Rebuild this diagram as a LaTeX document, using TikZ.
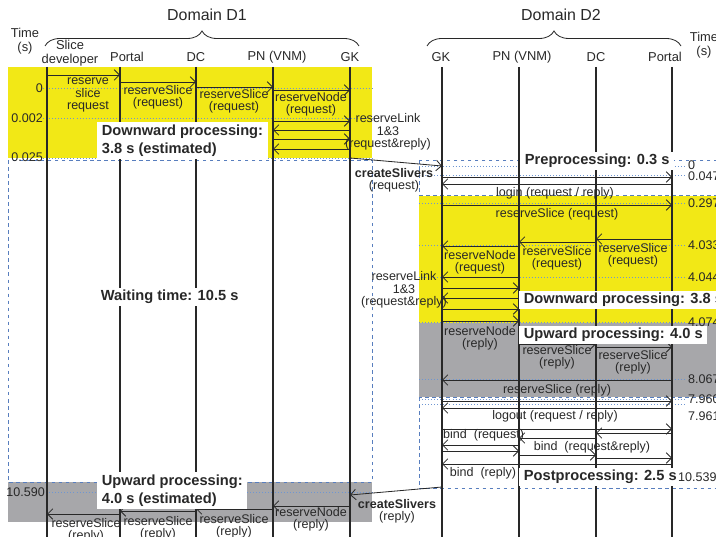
\documentclass[tikz,border=0pt]{standalone}
\usepackage{fontspec}
\setmainfont{Liberation Sans}
\usetikzlibrary{arrows.meta,decorations.pathreplacing}
\definecolor{bandyellow}{RGB}{242,232,22}
\definecolor{bandgray}{RGB}{167,167,170}
\definecolor{framecolor}{RGB}{88,126,190}
\definecolor{markcolor}{RGB}{110,150,210}
\definecolor{inkcolor}{RGB}{40,40,40}
\newcommand{\lblfont}{\fontsize{10.7}{10.5}\selectfont}
\newcommand{\headfont}{\fontsize{11}{12.5}\selectfont}
\newcommand{\phasefont}{\fontsize{12.5}{15.5}\selectfont\bfseries}
\newcommand{\msgarrow}[3]{\draw[msg] (#1 |- 0,#3) -- (#2 |- 0,#3);}
\tikzset{
	lifeline/.style={
		line width=1.4pt,
		draw=inkcolor
	},
	thinline/.style={
		line width=0.9pt,
		draw=inkcolor
	},
	msg/.style={
		draw=inkcolor,
		line width=0.7pt,
		-{Straight Barb[length=4.5pt,width=9pt]}
	},
	lbl/.style={
		font=\lblfont,
		text=inkcolor,
		align=center,
		inner sep=0pt
	},
	head/.style={
		font=\headfont,
		text=inkcolor,
		align=center,
		inner sep=0pt
	},
	phase/.style={
		font=\phasefont,
		text=inkcolor,
		fill=white,
		align=left,
		inner xsep=4pt,
		inner ysep=2pt
	},
	phaseframe/.style={
		draw=framecolor,
		dashed,
		line width=0.7pt
	},
	timemark/.style={
		draw=markcolor,
		dotted,
		line width=0.6pt
	},
	domainbrace/.style={
		decorate,
		decoration={brace,amplitude=4.5mm},
		draw=inkcolor,
		line width=0.7pt
	},
}

\begin{document}
\begin{tikzpicture}[x=0.03cm,y=-0.03cm]
\useasboundingbox (0,0) rectangle (716,537);

% phases
\fill[bandyellow] (8,67) rectangle (372,158);
\fill[bandgray] (8,482) rectangle (372,522);
\fill[bandyellow] (419,196) rectangle (716,323);
\fill[bandgray] (419,323) rectangle (716,397);
\draw[phaseframe] (8,160) rectangle (372,482);
\draw[phaseframe] (419,160) rectangle (730,195);
\draw[phaseframe] (419,397) rectangle (730,488);

\foreach \t in {88,118,158,492}
	\draw[timemark] (43,\t) -- (372,\t);
\foreach \t in {166,175,203,245,277,322,379,399,404}
	\draw[timemark] (419,\t) -- (686,\t);

% lifelines
\coordinate (sd) at (47,67);
\coordinate (po1) at (120,67);
\coordinate (dc1) at (196,67);
\coordinate (pn1) at (273,67);
\coordinate (gk1) at (350,67);
\coordinate (gk2) at (442,67);
\coordinate (pn2) at (519,67);
\coordinate (dc2) at (596,67);
\coordinate (po2) at (672,67);
\foreach \c in {sd,po1,dc1,pn1,gk1,gk2}
	\draw[lifeline] (\c) -- (\c |- 0,537);
\foreach \c in {pn2,dc2,po2}
	\draw[thinline] (\c) -- (\c |- 0,537);

% headers
\node[head, font=\fontsize{13.6}{15}\selectfont] (dom1) at (207,15) {Domain D1};
\node[head, font=\fontsize{13.6}{15}\selectfont] (dom2) at (561,15) {Domain D2};
\draw[domainbrace] (45,46) -- (359,46);
\draw[domainbrace] (427,46) -- (681,46);
\node[head] (time1) at (25,41) {Time\\(s)};
\node[head] (time2) at (704,45) {Time\\(s)};
\node[head] (hsd) at (70,53) {Slice\\developer};
\node[head] (hpo1) at (127,57) {Portal};
\node[head] (hdc1) at (196,57) {DC};
\node[head] (hpn1) at (277,57) {PN (VNM)};
\node[head] (hgk1) at (350,57) {GK};
\node[head] (hgk2) at (441,57) {GK};
\node[head] (hpn2) at (522,57) {PN (VNM)};
\node[head] (hdc2) at (596,57) {DC};
\node[head] (hpo2) at (665,57) {Portal};

% domain D1, downward
\msgarrow{sd}{po1}{75}
\msgarrow{po1}{dc1}{82}
\msgarrow{dc1}{pn1}{87}
\msgarrow{pn1}{gk1}{90}
\msgarrow{pn1}{gk1}{121}
\msgarrow{gk1}{pn1}{130}
\msgarrow{pn1}{gk1}{139}
\msgarrow{gk1}{pn1}{149}
\draw[msg] (gk1 |- 0,158) -- (gk2 |- 0,166);

% domain D2
\msgarrow{gk2}{po2}{177}
\msgarrow{po2}{gk2}{184}
\msgarrow{gk2}{po2}{205}
\msgarrow{po2}{dc2}{239}
\msgarrow{dc2}{pn2}{242}
\msgarrow{pn2}{gk2}{246}
\msgarrow{pn2}{gk2}{277}
\msgarrow{gk2}{pn2}{288}
\msgarrow{pn2}{gk2}{298}
\msgarrow{gk2}{pn2}{309}
\msgarrow{gk2}{pn2}{321}
\msgarrow{pn2}{dc2}{344}
\msgarrow{dc2}{po2}{347}
\msgarrow{po2}{gk2}{380}
\msgarrow{gk2}{po2}{401}
\msgarrow{po2}{gk2}{408}
\msgarrow{gk2}{po2}{429}
\msgarrow{po2}{dc2}{433}
\msgarrow{dc2}{pn2}{438}
\msgarrow{pn2}{gk2}{445}
\msgarrow{gk2}{pn2}{451}
\msgarrow{pn2}{dc2}{455}
\msgarrow{dc2}{po2}{458}
\msgarrow{po2}{gk2}{464}
\draw[msg] (gk2 |- 0,487) -- (gk1 |- 0,495);

% domain D1, upward
\msgarrow{gk1}{pn1}{506}
\msgarrow{pn1}{dc1}{509}
\msgarrow{dc1}{po1}{511}
\msgarrow{po1}{sd}{514}

% phase boxes
\node[phase, anchor=north west] (down1) at (97,122) {Downward processing:\\3.8 s (estimated)};
\node[phase, anchor=west] (wait1) at (96,297) {Waiting time: 10.5 s};
\node[phase, anchor=north west] (up1) at (97,472) {Upward processing:\\4.0 s (estimated)};
\node[phase, anchor=west] (pre2) at (520,161) {Preprocessing: 0.3 s};
\node[phase, anchor=west] (down2) at (519,300) {Downward processing: 3.8 s};
\node[phase, anchor=west] (up2) at (519,335) {Upward processing: 4.0 s};
\node[phase, anchor=west] (post2) at (519,477) {Postprocessing: 2.5 s};

% message labels
\node[lbl] (m1) at (88,95) {reserve\\slice\\request};
\node[lbl] (m2) at (158,97) {reserveSlice\\(request)};
\node[lbl] (m3) at (234,101) {reserveSlice\\(request)};
\node[lbl] (m4) at (311,104) {reserveNode\\(request)};
\node[lbl] (m5) at (388,132) {reserveLink\\1\&3\\(request\&reply)};
\node[lbl] (m6) at (394,180) {\textbf{createSlivers}\\(request)};
\node[lbl] (m7) at (555,193) {login (request / reply)};
\node[lbl] (m8) at (557,214) {reserveSlice (request)};
\node[lbl] (m9) at (633,255) {reserveSlice\\(request)};
\node[lbl] (m10) at (557,258) {reserveSlice\\(request)};
\node[lbl] (m11) at (480,262) {reserveNode\\(request)};
\node[lbl] (m12) at (404,290) {reserveLink\\1\&3\\(request\&reply)};
\node[lbl] (m13) at (480,338) {reserveNode\\(reply)};
\node[lbl] (m14) at (557,357) {reserveSlice\\(reply)};
\node[lbl] (m15) at (633,362) {reserveSlice\\(reply)};
\node[lbl] (m16) at (557,390) {reserveSlice (reply)};
\node[lbl] (m17) at (555,416) {logout (request / reply)};
\node[lbl, anchor=west] (m18) at (443,435) {bind \ (request)};
\node[lbl] (m19) at (592,447) {bind \ (request\&reply)};
\node[lbl] (m20) at (483,473) {bind \ (reply)};
\node[lbl] (m21) at (397,511) {\textbf{createSlivers}\\(reply)};
\node[lbl] (m22) at (311,519) {reserveNode\\(reply)};
\node[lbl] (m23) at (234,526) {reserveSlice\\(reply)};
\node[lbl] (m24) at (158,528) {reserveSlice\\(reply)};
\node[lbl] (m25) at (86,530) {reserveSlice\\(reply)};

% time stamps
\node[lbl, anchor=east] (t1) at (43,88) {0};
\node[lbl, anchor=east] (t2) at (43,118) {0.002};
\node[lbl, anchor=east] (t3) at (43,157) {0.025};
\node[lbl, anchor=east] (t4) at (45,492) {10.590};
\node[lbl, anchor=west] (t5) at (688,165) {0};
\node[lbl, anchor=west] (t6) at (688,176) {0.047};
\node[lbl, anchor=west] (t7) at (688,203) {0.297};
\node[lbl, anchor=west] (t8) at (688,245) {4.033};
\node[lbl, anchor=west] (t9) at (688,277) {4.044};
\node[lbl, anchor=west] (t10) at (688,322) {4.074};
\node[lbl, anchor=west] (t11) at (688,379) {8.067};
\node[lbl, anchor=west] (t12) at (688,399) {7.960};
\node[lbl, anchor=west] (t13) at (688,416) {7.961};
\node[lbl, anchor=west] (t14) at (678,477) {10.539};
\end{tikzpicture}
\end{document}
